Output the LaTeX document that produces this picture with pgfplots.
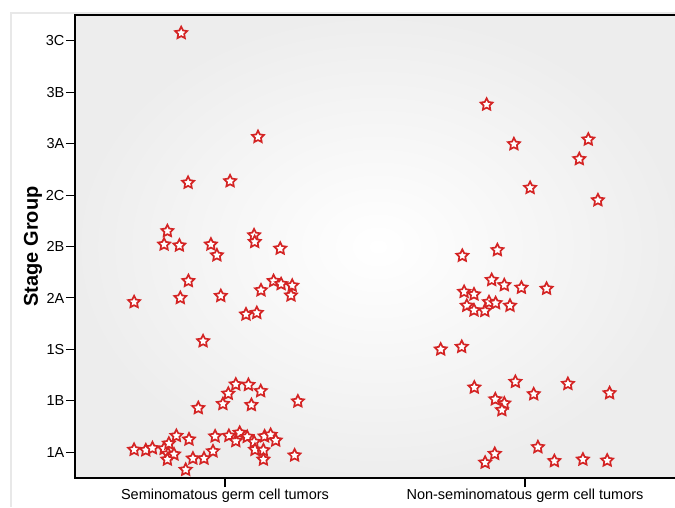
\documentclass[border=0pt]{standalone}
\usepackage{pgfplots}
\pgfplotsset{compat=1.18}
\usepackage{fontspec}
\setmainfont{Liberation Sans}
\definecolor{starred}{RGB}{212,36,36}
\pgfdeclareplotmark{ostar}{%
  \pgfpathmoveto{\pgfpointpolar{90}{\pgfplotmarksize}}%
  \pgfpathlineto{\pgfpointpolar{126}{0.5\pgfplotmarksize}}%
  \pgfpathlineto{\pgfpointpolar{162}{\pgfplotmarksize}}%
  \pgfpathlineto{\pgfpointpolar{198}{0.5\pgfplotmarksize}}%
  \pgfpathlineto{\pgfpointpolar{234}{\pgfplotmarksize}}%
  \pgfpathlineto{\pgfpointpolar{270}{0.5\pgfplotmarksize}}%
  \pgfpathlineto{\pgfpointpolar{306}{\pgfplotmarksize}}%
  \pgfpathlineto{\pgfpointpolar{342}{0.5\pgfplotmarksize}}%
  \pgfpathlineto{\pgfpointpolar{18}{\pgfplotmarksize}}%
  \pgfpathlineto{\pgfpointpolar{54}{0.5\pgfplotmarksize}}%
  \pgfpathclose
  \pgfusepathqfillstroke
}
\begin{document}
\begin{tikzpicture}
\path[use as bounding box] (-75pt,-29pt) rectangle (600pt,478pt);
\draw[black!9, line width=2.5pt] (-64pt,-29pt) -- (-64pt,465pt) -- (600pt,465pt);
\begin{axis}[
  scale only axis, width=606pt, height=463pt,
  xmin=0.5, xmax=2.52, ymin=0.5, ymax=9.5,
  axis background/.style={inner color=white, outer color=black!7},
  axis line style={line width=1.6pt, black},
  tick align=outside, tick pos=left, major tick length=9pt,
  every tick/.style={black, line width=1.1pt},
  xtick={1,2},
  xticklabels={Seminomatous germ cell tumors, Non-seminomatous germ cell tumors},
  ytick={1,2,3,4,5,6,7,8,9},
  yticklabels={1A,1B,1S,2A,2B,2C,3A,3B,3C},
  tick label style={font=\fontsize{14.5}{16}\selectfont},
  yticklabel style={inner sep=1.5pt},
  xticklabel style={inner sep=2pt},
  /pgf/number format/assume math mode=true,
  ylabel={Stage Group},
  ylabel style={font=\fontsize{20}{22}\selectfont\bfseries, at={(axis description cs:-0.0693,0.5)}, anchor=center},
]
% Seminomatous germ cell tumors
\addplot[only marks, mark=ostar, mark size=6.3pt, mark options={draw=starred, fill=white, line width=1.7pt}] coordinates {
(0.854,9.15) (1.110,7.13) (0.877,6.24) (1.017,6.27)
(0.808,5.30) (0.797,5.04) (0.848,5.02) (0.953,5.04) (0.973,4.83)
(1.097,5.22) (1.099,5.09) (1.184,4.96)
(0.878,4.33) (0.697,3.92) (0.851,4.00) (0.986,4.04) (1.120,4.15)
(1.162,4.33) (1.187,4.27) (1.224,4.24) (1.220,4.05) (1.070,3.68) (1.106,3.71)
(0.927,3.16)
(1.036,2.32) (1.078,2.31) (1.011,2.14) (1.119,2.19) (0.993,1.94)
(1.088,1.92) (0.911,1.86) (1.243,1.99)
(0.697,1.05) (0.736,1.04) (0.758,1.08) (0.797,1.07) (0.813,1.17)
(0.838,1.32) (0.810,0.97) (0.830,0.96) (0.808,0.86) (0.880,1.25)
(0.869,0.66) (0.893,0.88) (0.930,0.88) (0.960,1.02) (0.967,1.31)
(1.013,1.32) (1.036,1.22) (1.049,1.38) (1.074,1.30) (1.097,1.20)
(1.100,1.05) (1.128,1.04) (1.128,0.86) (1.132,1.31) (1.152,1.34)
(1.169,1.23) (1.232,0.94)
};
% Non-seminomatous germ cell tumors
\addplot[only marks, mark=ostar, mark size=6.3pt, mark options={draw=starred, fill=white, line width=1.7pt}] coordinates {
(1.872,7.76) (1.963,6.99) (2.211,7.08) (2.181,6.70) (2.017,6.14) (2.243,5.90)
(1.791,4.82) (1.908,4.93) (1.889,4.35) (1.931,4.25) (1.988,4.20) (2.072,4.18)
(1.797,4.12) (1.830,4.07) (1.806,3.85) (1.830,3.76) (1.866,3.75) (1.880,3.92)
(1.902,3.90) (1.950,3.85)
(1.719,3.00) (1.789,3.05)
(1.831,2.26) (1.968,2.37) (2.029,2.13) (2.143,2.33) (2.282,2.15)
(1.901,2.03) (1.931,1.95) (1.923,1.82)
(2.043,1.10) (1.899,0.97) (1.867,0.80) (2.098,0.83) (2.193,0.86) (2.274,0.84)
};
\end{axis}
\end{tikzpicture}
\end{document}
